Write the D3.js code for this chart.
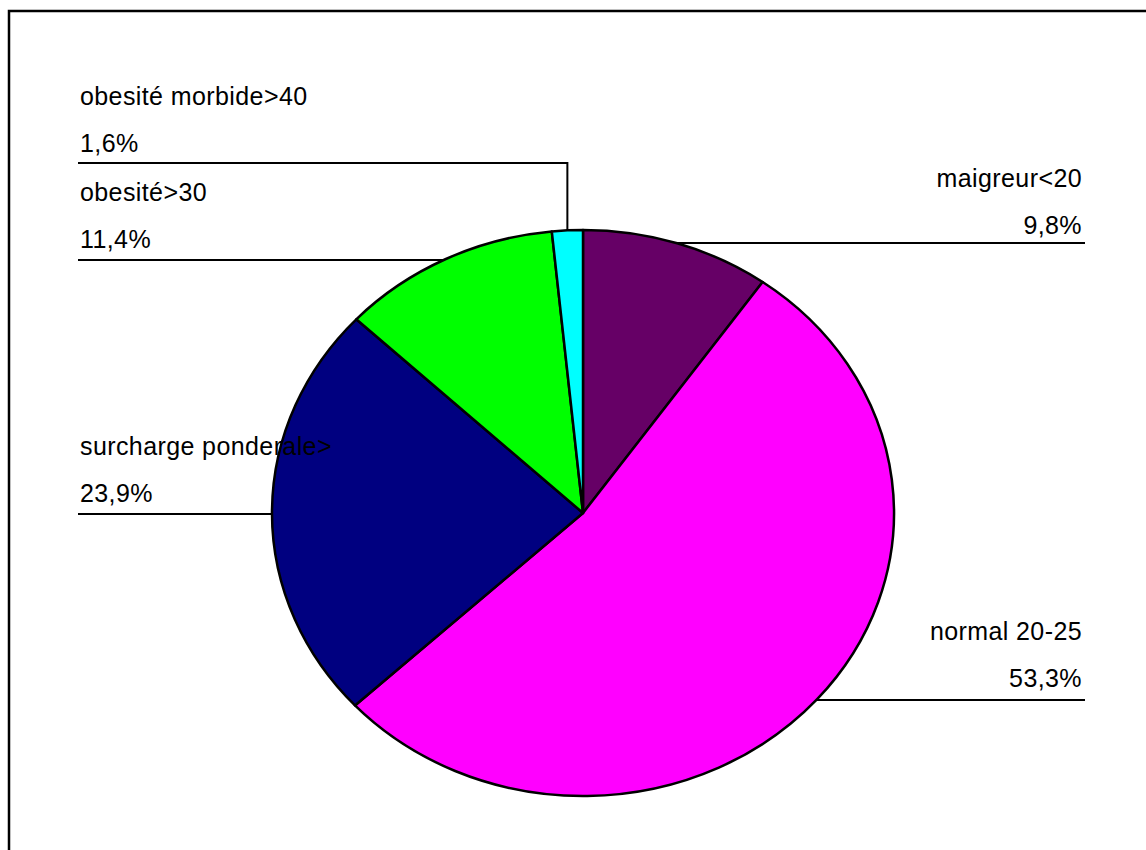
<!DOCTYPE html>
<html>
<head>
<meta charset="utf-8">
<script src="https://cdn.jsdelivr.net/npm/d3@7"></script>
<style>
  html, body { margin: 0; padding: 0; background: #fff; }
  svg { display: block; }
  text { font-family: "Liberation Sans", Arial, sans-serif; font-size: 25px; letter-spacing: 0.4px; fill: #000; }
</style>
</head>
<body>
<svg id="chart" width="1146" height="850"></svg>
<script>
// BMI categories and their share of the population (%)
const categories = ["maigreur<20", "normal 20-25", "surcharge ponderale>", "obesité>30", "obesité morbide>40"];
const values = [9.8, 53.3, 23.9, 11.4, 1.6];
const colors = ["#660066", "#FF00FF", "#000080", "#00FF00", "#00FFFF"];

// Label placement (page coordinates)
const labelLayout = [
  { anchor: "end",   x: 1082, y: 187, lineY: 243, lineTo: 1085, kind: "h" },
  { anchor: "end",   x: 1082, y: 640, lineY: 700, lineTo: 1085, kind: "h" },
  { anchor: "start", x: 80,   y: 455, lineY: 514, lineTo: 78,   kind: "h" },
  { anchor: "start", x: 80,   y: 201, lineY: 260, lineTo: 78,   kind: "h" },
  { anchor: "start", x: 80,   y: 105, lineY: 163, lineTo: 78,   kind: "elbow" }
];

const cx = 583, cy = 513, rx = 311, ry = 283;
const lineGap = 47;

const svg = d3.select("#chart");

// Chart frame
svg.append("rect")
  .attr("x", 9).attr("y", 11)
  .attr("width", 1300).attr("height", 1000)
  .attr("fill", "none").attr("stroke", "#000").attr("stroke-width", 2.5);

const pie = d3.pie().sort(null).value(d => d);
const arcs = pie(values);
const arc = d3.arc().innerRadius(0).outerRadius(ry);

// Pie drawn as an ellipse: circle of radius ry stretched horizontally
const g = svg.append("g")
  .attr("transform", `translate(${cx},${cy}) scale(${rx / ry},1)`);

g.selectAll("path")
  .data(arcs)
  .join("path")
  .attr("d", arc)
  .attr("fill", (d, i) => colors[i])
  .attr("stroke", "#000")
  .attr("stroke-width", 2.5)
  .attr("stroke-linejoin", "round")
  .attr("vector-effect", "non-scaling-stroke");

// x of the ellipse rim at height y on the given side
function rimX(y, side) {
  const t = (y - cy) / ry;
  const dx = rx * Math.sqrt(Math.max(0, 1 - t * t));
  return side === "end" ? cx + dx : cx - dx;
}

const fmt = v => v.toFixed(1).replace(".", ",") + "%";

const labels = svg.append("g");

arcs.forEach((a, i) => {
  const L = labelLayout[i];
  const side = L.anchor === "end" ? "end" : "start";
  let pts;
  if (L.kind === "elbow") {
    const mid = (a.startAngle + a.endAngle) / 2;
    const px = cx + rx * Math.sin(mid);
    const py = cy - ry * Math.cos(mid);
    pts = [[L.lineTo, L.lineY], [px, L.lineY], [px, py]];
  } else {
    pts = [[rimX(L.lineY, side), L.lineY], [L.lineTo, L.lineY]];
  }
  labels.append("path")
    .attr("d", d3.line()(pts))
    .attr("fill", "none")
    .attr("stroke", "#000")
    .attr("stroke-width", 2);

  labels.append("text")
    .attr("x", L.x).attr("y", L.y)
    .attr("text-anchor", L.anchor)
    .text(categories[i]);
  labels.append("text")
    .attr("x", L.x).attr("y", L.y + lineGap)
    .attr("text-anchor", L.anchor)
    .text(fmt(values[i]));
});
</script>
</body>
</html>
